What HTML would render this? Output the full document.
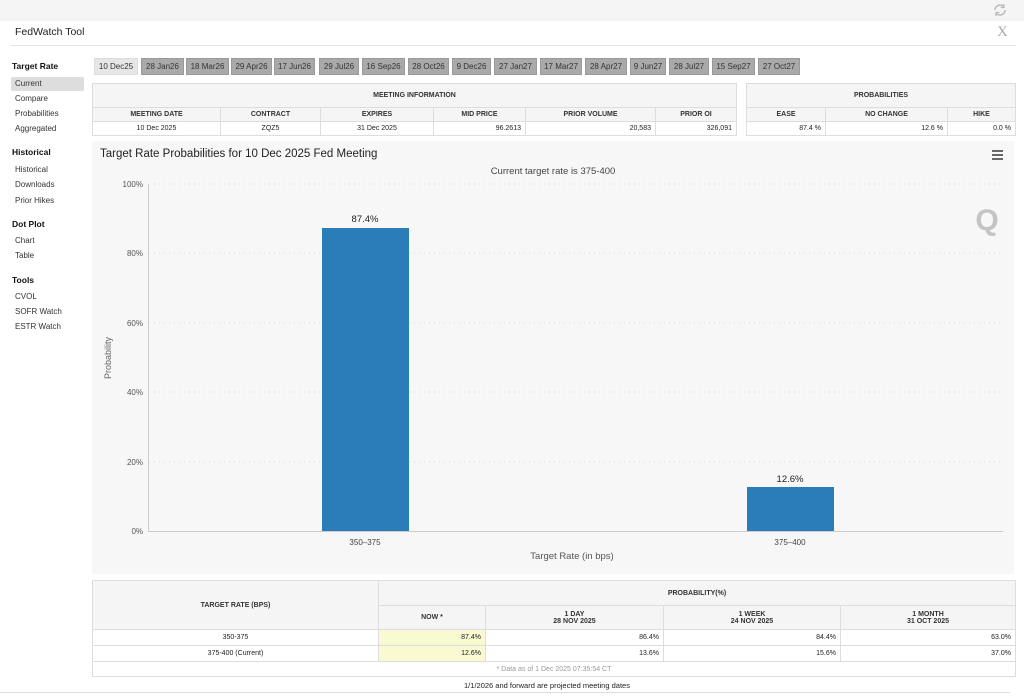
<!DOCTYPE html>
<html><head><meta charset="utf-8"><style>
*{margin:0;padding:0;box-sizing:border-box}
body{width:1024px;height:698px;background:#fff;font-family:"Liberation Sans",Arial,sans-serif;position:relative;overflow:hidden;color:#222}
.a{position:absolute}
.top{left:0;top:0;width:1024px;height:21px;background:#f5f5f5}
.side div{position:absolute;font-size:8px;color:#333;white-space:nowrap}
.side .h{font-weight:bold;font-size:8.5px;color:#111}
.tab{position:absolute;top:58px;height:17px;background:#a9a9a9;border:1px solid #999;font-size:8px;color:#333;text-align:center;line-height:15px}
table{border-collapse:collapse;position:absolute;font-size:7px}
td{border:1px solid #ddd;height:14px;padding:0 4px}
.hd td{background:#f5f5f5;font-weight:bold;text-align:center;color:#333}
</style></head><body>
<div class="a top"></div>
<svg class="a" style="left:992px;top:2px" width="16" height="16" viewBox="0 0 16 16"><path d="M3 8a5 5 0 0 1 9-3M13 8a5 5 0 0 1-9 3" stroke="#bbb" stroke-width="1.5" fill="none"/><path d="M12 2v3.5h-3.5M4 14v-3.5h3.5" stroke="#bbb" stroke-width="1.3" fill="none"/></svg>
<div class="a" style="left:15px;top:26px;font-size:10.5px">FedWatch Tool</div>
<div class="a" style="left:997px;top:24px;font-size:15px;color:#aaa;font-family:'Liberation Serif',serif">X</div>
<div class="a" style="left:11px;top:45px;width:1005px;height:1px;background:#e3e3e3"></div>
<div class="side">
<div class="h" style="left:12px;top:61px">Target Rate</div>
<div style="left:11px;top:77px;width:73px;height:14px;background:#ddd;border-radius:2px"></div>
<div style="left:15px;top:79px">Current</div>
<div style="left:15px;top:94px">Compare</div>
<div style="left:15px;top:109px">Probabilities</div>
<div style="left:15px;top:124px">Aggregated</div>
<div class="h" style="left:12px;top:147px">Historical</div>
<div style="left:15px;top:165px">Historical</div>
<div style="left:15px;top:180px">Downloads</div>
<div style="left:15px;top:196px">Prior Hikes</div>
<div class="h" style="left:12px;top:219px">Dot Plot</div>
<div style="left:15px;top:236px">Chart</div>
<div style="left:15px;top:251px">Table</div>
<div class="h" style="left:12px;top:275px">Tools</div>
<div style="left:15px;top:292px">CVOL</div>
<div style="left:15px;top:307px">SOFR Watch</div>
<div style="left:15px;top:322px">ESTR Watch</div>
</div>
<div class="tab" style="left:94px;width:44px;background:#e6e6e6;border-color:#ddd">10 Dec25</div>
<div class="tab" style="left:141px;width:43px">28 Jan26</div>
<div class="tab" style="left:186px;width:43px">18 Mar26</div>
<div class="tab" style="left:231px;width:41px">29 Apr26</div>
<div class="tab" style="left:274px;width:41px">17 Jun26</div>
<div class="tab" style="left:319px;width:40px">29 Jul26</div>
<div class="tab" style="left:362px;width:43px">16 Sep26</div>
<div class="tab" style="left:408px;width:41px">28 Oct26</div>
<div class="tab" style="left:452px;width:39px">9 Dec26</div>
<div class="tab" style="left:494px;width:43px">27 Jan27</div>
<div class="tab" style="left:540px;width:42px">17 Mar27</div>
<div class="tab" style="left:585px;width:42px">28 Apr27</div>
<div class="tab" style="left:630px;width:36px">9 Jun27</div>
<div class="tab" style="left:669px;width:40px">28 Jul27</div>
<div class="tab" style="left:712px;width:43px">15 Sep27</div>
<div class="tab" style="left:758px;width:42px">27 Oct27</div>
<table style="left:92px;top:83px;width:645px">
<tr class="hd"><td colspan="6" style="height:24px">MEETING INFORMATION</td></tr>
<tr class="hd"><td style="width:128px">MEETING DATE</td><td style="width:100px">CONTRACT</td><td style="width:113px">EXPIRES</td><td style="width:92px">MID PRICE</td><td style="width:130px">PRIOR VOLUME</td><td>PRIOR OI</td></tr>
<tr><td style="text-align:center">10 Dec 2025</td><td style="text-align:center">ZQZ5</td><td style="text-align:center">31 Dec 2025</td><td style="text-align:right">96.2613</td><td style="text-align:right">20,583</td><td style="text-align:right">326,091</td></tr>
</table>
<table style="left:746px;top:83px;width:270px">
<tr class="hd"><td colspan="3" style="height:24px">PROBABILITIES</td></tr>
<tr class="hd"><td style="width:79px">EASE</td><td style="width:122px">NO CHANGE</td><td>HIKE</td></tr>
<tr><td style="text-align:right">87.4 %</td><td style="text-align:right">12.6 %</td><td style="text-align:right">0.0 %</td></tr>
</table>
<div class="a" style="left:92px;top:141px;width:922px;height:433px;background:#f7f7f7"></div>
<svg class="a" style="left:0;top:0" width="1024" height="698">
<text x="100" y="157" font-size="11.5" fill="#222">Target Rate Probabilities for 10 Dec 2025 Fed Meeting</text>
<text x="553" y="174" font-size="9.5" fill="#444" text-anchor="middle">Current target rate is 375-400</text>
<g fill="#666"><rect x="992" y="150" width="11" height="2"/><rect x="992" y="154" width="11" height="2"/><rect x="992" y="158" width="11" height="2"/></g>
<text x="987" y="230" font-size="30" font-weight="bold" fill="#c4c4c4" text-anchor="middle">Q</text>
<g stroke="#d8d8d8" stroke-dasharray="1,4"><line x1="149" y1="184" x2="1003" y2="184"/><line x1="149" y1="253" x2="1003" y2="253"/><line x1="149" y1="323" x2="1003" y2="323"/><line x1="149" y1="392" x2="1003" y2="392"/><line x1="149" y1="462" x2="1003" y2="462"/></g>
<line x1="148.5" y1="184" x2="148.5" y2="531" stroke="#ccc"/>
<line x1="148" y1="531.5" x2="1003" y2="531.5" stroke="#ccc"/>
<g font-size="8" fill="#555" text-anchor="end"><text x="143" y="187">100%</text><text x="143" y="256">80%</text><text x="143" y="326">60%</text><text x="143" y="395">40%</text><text x="143" y="465">20%</text><text x="143" y="534">0%</text></g>
<text transform="translate(111,358) rotate(-90)" font-size="9" fill="#666" text-anchor="middle">Probability</text>
<rect x="322" y="228" width="87" height="303" fill="#2a7db8"/>
<rect x="747" y="487" width="87" height="44" fill="#2a7db8"/>
<text x="365" y="222" font-size="9.5" fill="#222" text-anchor="middle">87.4%</text>
<text x="790" y="482" font-size="9.5" fill="#222" text-anchor="middle">12.6%</text>
<text x="365" y="545" font-size="8" fill="#444" text-anchor="middle">350–375</text>
<text x="790" y="545" font-size="8" fill="#444" text-anchor="middle">375–400</text>
<text x="572" y="559" font-size="9.5" fill="#555" text-anchor="middle">Target Rate (in bps)</text>
</svg>
<table style="left:92px;top:580px;width:924px">
<tr class="hd"><td rowspan="2" style="width:286px">TARGET RATE (BPS)</td><td colspan="4" style="height:25px">PROBABILITY(%)</td></tr>
<tr class="hd"><td style="width:107px;height:24px">NOW *</td><td style="width:178px">1 DAY<br>28 NOV 2025</td><td style="width:177px">1 WEEK<br>24 NOV 2025</td><td>1 MONTH<br>31 OCT 2025</td></tr>
<tr><td style="text-align:center;height:16px">350-375</td><td style="text-align:right;background:#f9f9d2">87.4%</td><td style="text-align:right">86.4%</td><td style="text-align:right">84.4%</td><td style="text-align:right">63.0%</td></tr>
<tr><td style="text-align:center;height:16px">375-400 (Current)</td><td style="text-align:right;background:#f9f9d2">12.6%</td><td style="text-align:right">13.6%</td><td style="text-align:right">15.6%</td><td style="text-align:right">37.0%</td></tr>
<tr><td colspan="5" style="text-align:center;color:#999;height:15px">* Data as of 1 Dec 2025 07:35:54 CT</td></tr>
</table>
<div class="a" style="left:0;top:681px;width:1024px;text-align:center;font-size:7.5px;padding-left:70px">1/1/2026 and forward are projected meeting dates</div>
<div class="a" style="left:0;top:692px;width:1010px;height:1px;background:#ddd"></div>
</body></html>
